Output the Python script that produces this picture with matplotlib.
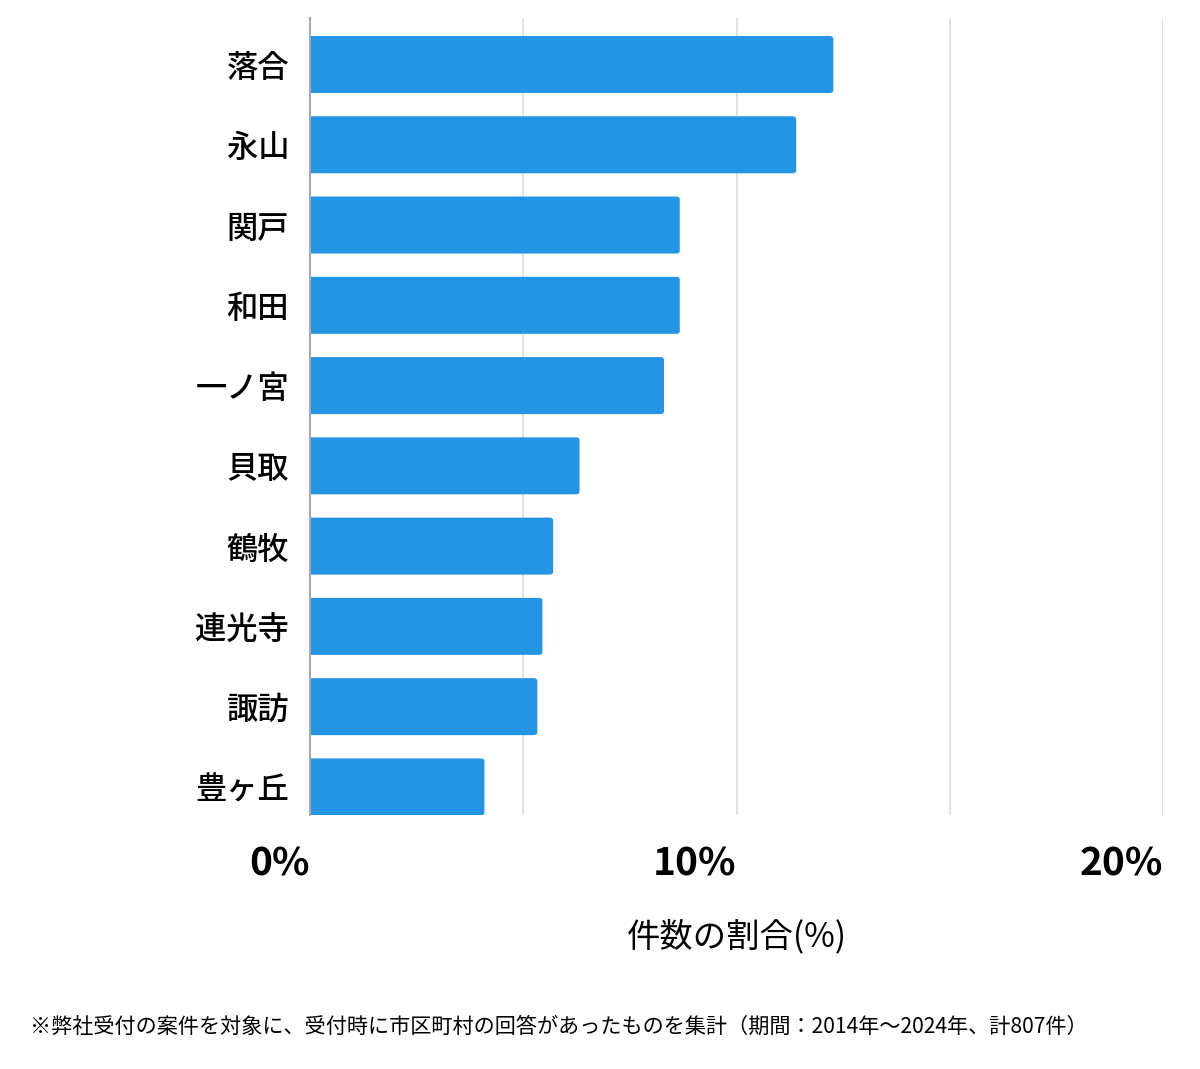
import matplotlib
matplotlib.use("Agg")
import matplotlib.pyplot as plt
from matplotlib.patches import FancyBboxPatch

plt.rcParams['font.family'] = ['Noto Sans CJK JP', 'DejaVu Sans']

# data (share of 807 cases, %)
areas = ["落合", "永山", "関戸", "和田", "一ノ宮", "貝取", "鶴牧", "連光寺", "諏訪", "豊ヶ丘"]
shares = [12.27, 11.40, 8.67, 8.67, 8.30, 6.32, 5.70, 5.45, 5.33, 4.09]
major_ticks = [0, 10, 20]
tick_labels = ["0%", "10%", "20%"]
grid_ticks = [5, 15]

bar_color = "#2494e4"

fig = plt.figure(figsize=(12, 10.69), dpi=100)
ax = fig.add_axes([0.2583, 0.2376, 0.7109, 0.7456])

bar_h = 0.71
for i, v in enumerate(shares):
    # rounded right end, square left end
    ax.add_patch(FancyBboxPatch((-0.5, i - bar_h / 2), v + 0.5, bar_h,
                                boxstyle="round,pad=0,rounding_size=0.08",
                                mutation_aspect=1 / 2.2,
                                facecolor=bar_color, edgecolor="none", zorder=3))

ax.set_xlim(0, 20)
ax.set_ylim(9.35, -0.58)

ax.set_yticks(range(len(areas)))
ax.set_yticklabels(areas, fontsize=22.5, fontweight="medium")
ax.tick_params(axis="y", length=0, pad=15)

ax.set_xticks(major_ticks)
ax.set_xticklabels(tick_labels, fontsize=28, fontweight="bold", ha="right")
ax.set_xticks(grid_ticks, minor=True)
ax.tick_params(axis="x", which="both", length=0, pad=21)
ax.grid(axis="x", which="both", color="#dddddd", linewidth=1.2, zorder=0)
ax.set_axisbelow(True)

for s in ["top", "right", "bottom"]:
    ax.spines[s].set_visible(False)
ax.spines["left"].set_color("#aaaaaa")
ax.spines["left"].set_linewidth(1.5)
ax.spines["left"].set_zorder(4)

ax.set_xlabel("件数の割合(%)", fontsize=24, labelpad=26)

fig.text(0.025, 0.039,
         "※弊社受付の案件を対象に、受付時に市区町村の回答があったものを集計（期間：2014年～2024年、計807件）",
         fontsize=15.2, va="center", ha="left")

fig.savefig("out.png", dpi=100)
